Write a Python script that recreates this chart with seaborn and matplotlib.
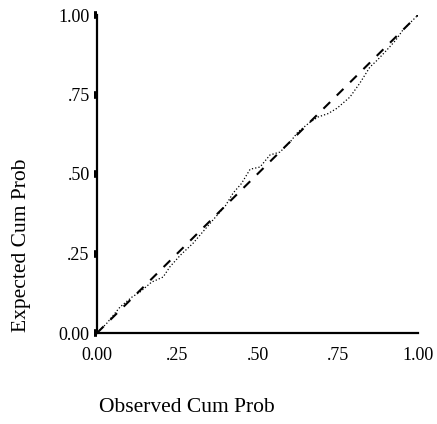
import matplotlib
matplotlib.use("Agg")
import matplotlib.pyplot as plt
import seaborn as sns
import pandas as pd

# Normal P-P plot values
observed = [0.0, 0.03, 0.072, 0.109, 0.134, 0.17, 0.206, 0.227, 0.26, 0.30, 0.321,
            0.361, 0.40, 0.424, 0.45, 0.477, 0.508, 0.539, 0.57, 0.601, 0.626, 0.66,
            0.688, 0.72, 0.748, 0.788, 0.819, 0.85, 0.875, 0.903, 0.93, 0.953, 0.984, 1.0]
expected = [0.0, 0.03, 0.082, 0.113, 0.129, 0.16, 0.176, 0.208, 0.245, 0.283, 0.308,
            0.355, 0.40, 0.44, 0.47, 0.515, 0.522, 0.56, 0.569, 0.60, 0.632, 0.66,
            0.679, 0.69, 0.707, 0.742, 0.786, 0.836, 0.86, 0.89, 0.92, 0.953, 0.984, 1.0]
ref_line = [0.0, 1.0]
tick_vals = [0.0, 0.25, 0.5, 0.75, 1.0]
tick_labels = ["0.00", ".25", ".50", ".75", "1.00"]

sns.set_style("white")
plt.rcParams["font.family"] = ["Liberation Serif", "DejaVu Serif"]
plt.rcParams["text.color"] = "black"
plt.rcParams["xtick.color"] = "black"
plt.rcParams["ytick.color"] = "black"

df = pd.DataFrame({"obs": observed, "exp": expected})

fig = plt.figure(figsize=(4.37, 4.24), dpi=100)
ax = fig.add_axes([97 / 437, 1 - 333 / 424, 321 / 437, 318 / 424])

sns.lineplot(data=df, x="obs", y="exp", ax=ax, color="black", linestyle=":",
             linewidth=0.9, sort=False)
ax.plot(ref_line, ref_line, color="black", linestyle=(0, (4.5, 4.5)), linewidth=1.5)

ax.set_xlim(0, 1)
ax.set_ylim(0, 1)
ax.set_xticks(tick_vals)
ax.set_xticklabels(tick_labels)
ax.set_yticks(tick_vals)
ax.set_yticklabels(tick_labels)
ax.tick_params(axis="x", length=0, pad=10, labelsize=13, colors="black")
ax.tick_params(axis="y", length=2.3, width=5.5, pad=3, labelsize=13, direction="out",
               left=True, colors="black")
ax.set_xlabel("")
ax.set_ylabel("")
for s in ["top", "right"]:
    ax.spines[s].set_visible(False)
for s in ["left", "bottom"]:
    ax.spines[s].set_color("black")
    ax.spines[s].set_linewidth(1.6)

fig.text(187 / 437, 1 - 407 / 424, "Observed Cum Prob", ha="center", va="center",
         fontsize=15.5, color="black")
fig.text(22 / 437, 1 - 245 / 424, "Expected Cum Prob", ha="center", va="center",
         rotation=90, fontsize=15.5, color="black")

fig.savefig("out.png", dpi=100)
